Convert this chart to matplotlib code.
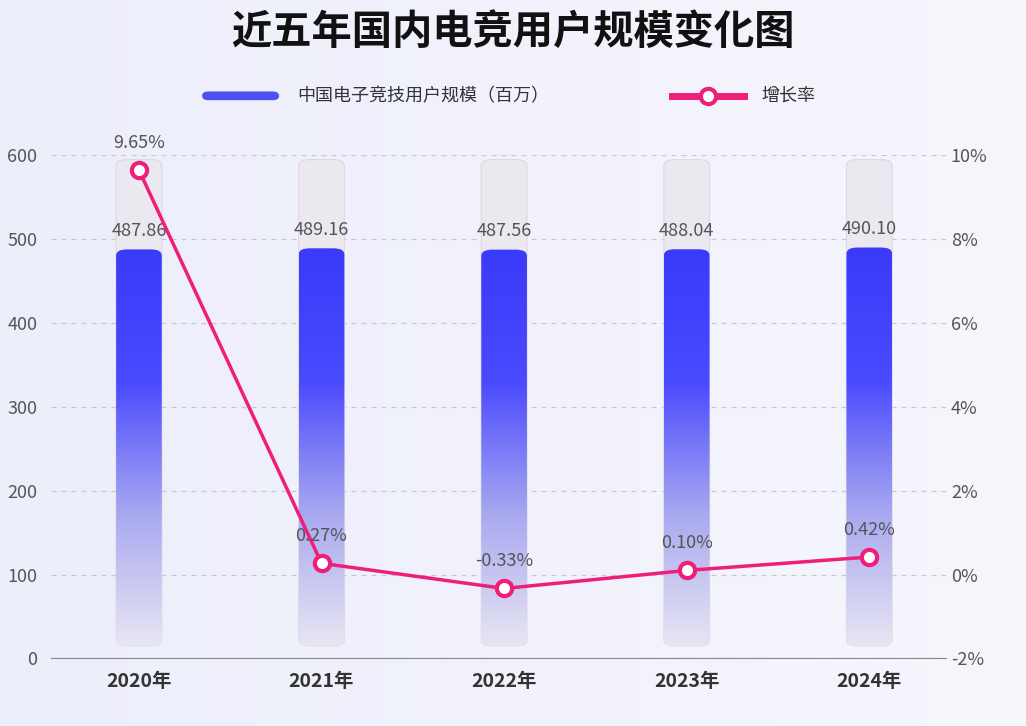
import matplotlib
matplotlib.use("Agg")
import matplotlib.pyplot as plt
import numpy as np
from matplotlib.patches import FancyBboxPatch
from matplotlib.colors import LinearSegmentedColormap
from matplotlib import font_manager as fm

cjk = None
for name in ["Noto Sans CJK SC", "Noto Sans CJK JP", "Noto Sans CJK TC", "Noto Sans CJK KR"]:
    try:
        fm.findfont(name, fallback_to_default=False)
        cjk = name
        break
    except Exception:
        pass
if cjk is None:
    for f in fm.fontManager.ttflist:
        if "CJK" in f.name:
            cjk = f.name
            break
plt.rcParams["font.family"] = [cjk or "DejaVu Sans", "DejaVu Sans"]

years = ["2020年", "2021年", "2022年", "2023年", "2024年"]
users = [487.86, 489.16, 487.56, 488.04, 490.10]
growth = [9.65, 0.27, -0.33, 0.10, 0.42]
bar_labels = ["487.86", "489.16", "487.56", "488.04", "490.10"]
growth_labels = ["9.65%", "0.27%", "-0.33%", "0.10%", "0.42%"]

fig = plt.figure(figsize=(10.26, 7.26), dpi=100)
bg = fig.add_axes([0, 0, 1, 1], zorder=-10)
g = np.linspace(0, 1, 256)[None, :]
bg.imshow(g, aspect="auto", cmap=LinearSegmentedColormap.from_list("b", ["#eceefa", "#f6f6fd"]), extent=[0, 1, 0, 1])
bg.axis("off")

ax = fig.add_axes([0.05, 0.093, 0.872, 0.693])
ax.set_facecolor("none")
x = np.arange(len(years))
w = 0.25
cmap = LinearSegmentedColormap.from_list("bar", ["#e8e6f2", "#a8a8f0", "#4a4aff", "#3a3afa"])
for i, v in enumerate(users):
    back = FancyBboxPatch((x[i] - w / 2, 15), w, 580, boxstyle="round,pad=0,rounding_size=0.06",
                          mutation_aspect=120, fc="#ebe8f0", ec="#dcd8e4", lw=0.8, zorder=1)
    ax.add_patch(back)
    p = FancyBboxPatch((x[i] - w / 2, 15), w, v - 15, boxstyle="round,pad=0,rounding_size=0.06",
                       mutation_aspect=120, fc="none", ec="none", zorder=2)
    ax.add_patch(p)
    im = ax.imshow(np.linspace(0, 1, 256)[:, None], aspect="auto", cmap=cmap, origin="lower",
                   extent=[x[i] - w / 2, x[i] + w / 2, 15, v], zorder=2)
    im.set_clip_path(p)
    ax.text(x[i], v + 22, bar_labels[i], ha="center", va="center", fontsize=13, color="#555555", zorder=5)

ax.set_xlim(-0.48, 4.42)
ax.set_ylim(0, 600)
ax.set_yticks(range(0, 601, 100))
ax.grid(axis="y", color="#c8c8d4", ls=(0, (4, 4)), lw=0.9)
ax.set_axisbelow(True)
for s in ["top", "right", "left"]:
    ax.spines[s].set_visible(False)
ax.spines["bottom"].set_color("#888888")
ax.set_xticks(x)
ax.set_xticklabels(years, fontsize=14, fontweight="bold", color="#333333")
ax.tick_params(length=0, pad=10)
ax.tick_params(axis="y", labelsize=13, labelcolor="#555555")

ax2 = ax.twinx()
ax2.set_ylim(-2, 10)
ax2.set_yticks(range(-2, 11, 2))
ax2.set_yticklabels([f"{v}%" for v in range(-2, 11, 2)])
for s in ax2.spines.values():
    s.set_visible(False)
ax2.tick_params(length=0, labelsize=13, labelcolor="#555555")
ax2.plot(x, growth, color="#ee1f78", lw=2.5, marker="o", ms=11, mfc="white", mec="#ee1f78", mew=3, zorder=6)
for i, gv in enumerate(growth):
    ax2.text(x[i], gv + 0.65, growth_labels[i], ha="center", va="center", fontsize=13, color="#555555", zorder=7)

fig.text(0.5, 0.955, "近五年国内电竞用户规模变化图", ha="center", va="center", fontsize=29, fontweight="bold", color="#111111")
fig.patches.append(FancyBboxPatch((0.197, 0.862), 0.075, 0.012, boxstyle="round,pad=0,rounding_size=0.006",
                                  transform=fig.transFigure, fc="#5050f5", ec="none"))
fig.text(0.29, 0.868, "中国电子竞技用户规模（百万）", va="center", fontsize=13, color="#333333")
fig.lines.append(plt.Line2D([0.655, 0.725], [0.868, 0.868], transform=fig.transFigure, color="#ee1f78", lw=5))
fig.lines.append(plt.Line2D([0.69], [0.868], transform=fig.transFigure, color="#ee1f78", marker="o", ms=11,
                            mfc="white", mew=3, ls="none"))
fig.text(0.742, 0.868, "增长率", va="center", fontsize=13, color="#333333")

fig.savefig("out.png", dpi=100)
